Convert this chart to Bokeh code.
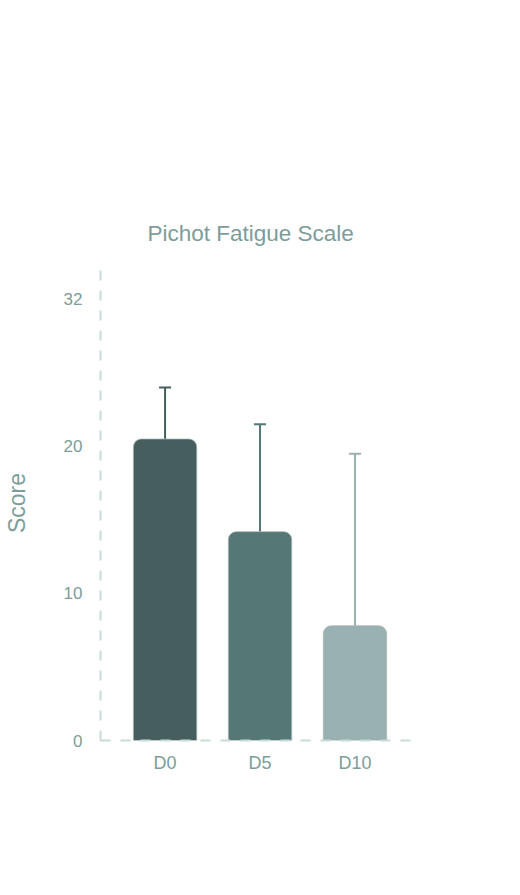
import numpy as np
from bokeh.plotting import figure
from bokeh.models import Range1d, FixedTicker, Label, ColumnDataSource
from bokeh.embed import file_html
from bokeh.resources import INLINE

# ---- data ----
days = ["D0", "D5", "D10"]
scores = [20.5, 14.2, 7.8]
upper = [24.0, 21.5, 19.5]
bar_colors = ["#465f5e", "#557775", "#99b1b0"]
y_ticks = [0, 10, 20, 30]
y_tick_labels = ["0", "10", "20", "32"]

FONT = "Liberation Sans"
TEXT_COLOR = "#7d9d9a"
AXIS_COLOR = "#c6dcd9"

x = list(range(len(days)))
src = ColumnDataSource(dict(x=x, day=days, score=scores, upper=upper, color=bar_colors))

p = figure(width=504, height=878, output_backend="svg", toolbar_location=None,
           x_range=Range1d(-0.68, 2.69), y_range=Range1d(0, 32.3),
           min_border_left=96, min_border_right=84, min_border_top=265,
           min_border_bottom=138)

p.title.text = "Pichot Fatigue Scale"
p.title.align = "left"
p.title.offset = 47
p.title.text_font = FONT
p.title.text_font_size = "22.5px"
p.title.text_font_style = "normal"
p.title.text_color = TEXT_COLOR
p.title.standoff = 39

p.outline_line_color = None
p.xgrid.visible = False
p.ygrid.visible = False
p.background_fill_color = "white"
p.border_fill_color = "white"

# error bars (upper only)
p.segment(x0="x", y0="score", x1="x", y1="upper", line_color="color",
          line_width=2, source=src)
p.scatter(x="x", y="upper", marker="dash", size=12, line_color="color",
          line_width=2, source=src)

# bars with rounded tops
p.vbar(x="x", top="score", bottom=0, width=0.667, fill_color="color",
       line_color="#a7b2b1", line_width=1, line_alpha=0.7,
       border_radius=(8, 8, 0, 0), source=src)

# axes
for ax in (p.xaxis[0], p.yaxis[0]):
    ax.axis_line_color = AXIS_COLOR
    ax.axis_line_width = 2
    ax.axis_line_dash = "10 10"
    ax.major_tick_line_color = None
    ax.minor_tick_line_color = None
    ax.major_tick_out = 0
    ax.major_tick_in = 0
    ax.major_label_text_font = FONT
    ax.major_label_text_color = TEXT_COLOR

p.xaxis.ticker = FixedTicker(ticks=x)
p.xaxis.major_label_overrides = {i: d for i, d in zip(x, days)}
p.xaxis.major_label_text_font_size = "18px"
p.xaxis.major_label_standoff = 12

p.yaxis.ticker = FixedTicker(ticks=y_ticks)
p.yaxis.major_label_overrides = {t: l for t, l in zip(y_ticks, y_tick_labels)}
p.yaxis.major_label_text_font_size = "17px"
p.yaxis.major_label_standoff = 18
p.yaxis.axis_label = "Score"
p.yaxis.axis_label_text_font = FONT
p.yaxis.axis_label_text_font_size = "23px"
p.yaxis.axis_label_text_font_style = "normal"
p.yaxis.axis_label_text_color = TEXT_COLOR
p.yaxis.axis_label_standoff = 31

p.add_layout(Label(x=3.1, y=0, y_offset=3, text="Day", text_font=FONT,
                   text_font_size="19px", text_color=TEXT_COLOR,
                   text_align="left", text_baseline="middle"))

open("out.html", "w").write(file_html(p, INLINE))
